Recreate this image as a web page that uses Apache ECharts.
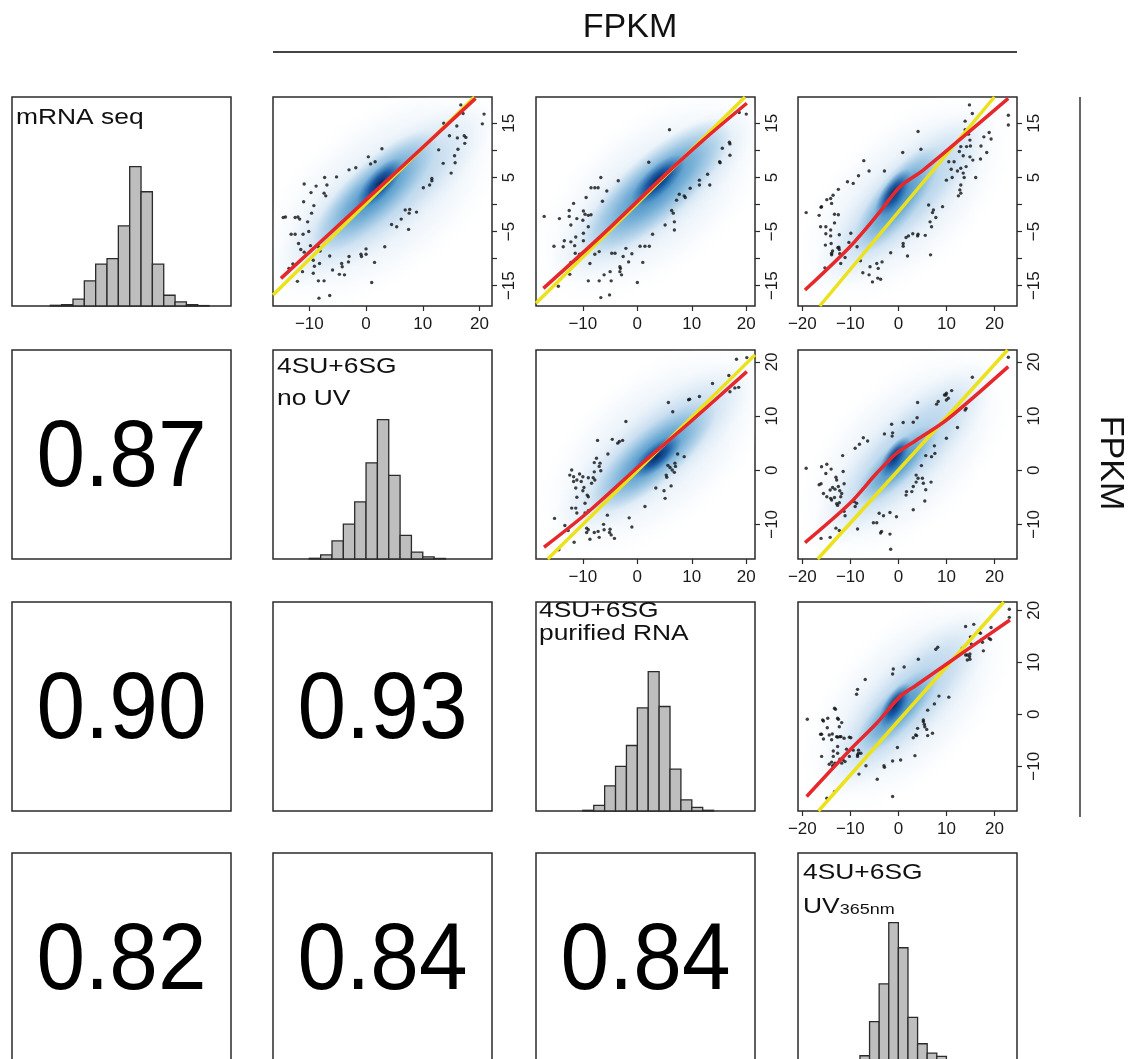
<!DOCTYPE html>
<html>
<head>
<meta charset="utf-8">
<script src="https://cdn.jsdelivr.net/npm/echarts@6.0.0/dist/echarts.min.js"></script>
<style>
  html, body { margin: 0; padding: 0; background: #ffffff; }
  #chart { width: 1133px; height: 1059px; }
</style>
</head>
<body>
<div id="chart"></div>
<script>
// ---------------- data ----------------
// Samples, in matrix order (row/column 0..3)
const sampleTitles = [
  ['mRNA seq'],
  ['4SU+6SG', 'no UV'],
  ['4SU+6SG', 'purified RNA'],
  ['4SU+6SG', '{b|UV}{sub|365nm}']
];

// log2 FPKM axis extent of every sample
const axisMin = [-18.75, -16.4, -18.6, -20.9];
const axisMax = [19.86, 22.2, 21.6, 24.7];

// axis ticks / labels
const xTickValues = [[], [-10, 0, 10, 20], [-10, 0, 10, 20], [-20, -10, 0, 10, 20]];
const yTickValues = [[-15, -10, -5, 0, 5, 10, 15], [-10, 0, 10, 20], [-10, 0, 10, 20], []];
const yLabelValues = [[-15, -5, 5, 15], [-10, 0, 10, 20], [-10, 0, 10, 20], []];

// histograms (bin left edges, counts scaled to the tallest bin)
const binWidth = 2;
const binsMrna = [-12, -10, -8, -6, -4, -2, 0, 2, 4, 6, 8, 10, 12, 14];
const countsMrna = [0.005, 0.01, 0.05, 0.18, 0.30, 0.34, 0.575, 1.0, 0.82, 0.30, 0.077, 0.029, 0.01, 0.003];
const binsNoUV = [-10, -8, -6, -4, -2, 0, 2, 4, 6, 8, 10, 12];
const countsNoUV = [0.005, 0.03, 0.13, 0.25, 0.41, 0.69, 1.0, 0.60, 0.17, 0.05, 0.015, 0.004];
const binsPurified = [-10, -8, -6, -4, -2, 0, 2, 4, 6, 8, 10, 12];
const countsPurified = [0.005, 0.04, 0.18, 0.32, 0.47, 0.74, 1.0, 0.75, 0.30, 0.08, 0.026, 0.005];
const binsUV = [-10, -8, -6, -4, -2, 0, 2, 4, 6, 8, 10];
const countsUV = [0.01, 0.045, 0.29, 0.56, 1.0, 0.82, 0.32, 0.131, 0.064, 0.04, 0.015];

// Pearson correlations for the lower triangle
const corrRows = [1, 2, 2, 3, 3, 3];
const corrCols = [0, 0, 1, 0, 1, 2];
const corrValues = [0.87, 0.90, 0.93, 0.82, 0.84, 0.84];

// density ridge of each scatter: [x1, y1, x2, y2, level] (level 0 = outer, 2 = core)
const density_01 = [[-12.5, -11.5, 18.6, 15.0, 0], [-7.23, -6.56, 10.4, 11.3, 1], [-0.77, 0.22, 5.69, 7.6, 2]];
const density_02 = [[-12.36, -10.87, 18.24, 14.38, 0], [-7.46, -6.56, 14.57, 13.15, 1], [-0.12, 0.83, 7.84, 8.22, 2]];
const density_03 = [[-13.55, -12.1, 16.29, 14.38, 0], [-7.3, -7.18, 6.58, 8.83, 1], [-3.83, -1.63, 1.72, 5.76, 2]];
const density_12 = [[-11.74, -9.18, 18.24, 16.67, 0], [-6.24, -5.49, 12.12, 10.51, 1], [-0.12, -0.57, 7.23, 5.59, 2]];
const density_13 = [[-13.55, -10.41, 16.29, 16.67, 0], [-7.3, -4.87, 6.58, 6.82, 1], [-3.14, -0.57, 1.72, 5.59, 2]];
const density_23 = [[-12.85, -11.99, 16.29, 16.86, 0], [-7.3, -6.22, 6.58, 7.24, 1], [-3.14, -1.73, 1.72, 5.32, 2]];

// lowess fits (red)
const fit_01 = [[-15.0, -13.65], [2.0, 2.8], [19.3, 19.6]];
const fit_02 = [[-17.25, -15.5], [-6, -5.2], [4.8, 5.2], [12, 11.8], [20.1, 18.7]];
const fit_03 = [[-19.45, -15.8], [-10.08, -7.79], [-3.83, -1.33], [0.33, 3.29], [5.19, 6.37], [13.52, 12.53], [22.88, 19.61]];
const fit_12 = [[-17.13, -14.23], [-9.3, -7.95], [0.8, 1.2], [9.7, 8.9], [20.1, 18.2]];
const fit_13 = [[-19.45, -13.37], [-10.08, -6.1], [-4.53, -0.57], [-0.36, 3.13], [3.8, 5.59], [10.05, 9.28], [22.88, 19.13]];
const fit_23 = [[-19.1, -15.8], [-10.08, -6.86], [-4.53, -1.73], [0.33, 3.4], [3.8, 5.64], [10.05, 9.68], [23.23, 18.14]];

// reference lines (yellow)
const ref_01 = [[-16.4, -16.7], [19.1, 19.86]];
const ref_02 = [[-18.6, -18.25], [19.77, 19.86]];
const ref_03 = [[-16.37, -18.75], [20.0, 19.86]];
const ref_12 = [[-16.45, -16.4], [21.6, 21.3]];
const ref_13 = [[-16.8, -16.4], [22.75, 22.2]];
const ref_23 = [[-16.64, -18.6], [21.96, 21.6]];

// isolated genes outside the dense cloud
const outliers_01 = [[16.7,18.4],[17.1,16.8],[20.8,16.7],[20.5,14.9],[13.7,15.0],[16.0,14.5],[14.7,12.7],[16.1,12.3],[17.3,12.7],[17.6,12.4],[17.4,11.3],[12.8,10.1],[16.2,10.2],[15.6,9.0],[13.6,7.6],[15.7,7.7],[15.0,5.8],[11.6,4.8],[11.6,4.4],[10.1,3.1],[11.2,3.6],[6.9,-1.0],[7.7,-0.9],[7.6,-1.6],[8.9,-1.4],[6.2,-2.7],[4.5,-3.7],[5.4,-4.1],[7.5,-4.6],[3.3,-7.8],
  [2.8,10.3],[0.4,8.8],[0.8,7.5],[1.6,7.9],[-1.8,6.8],[-3.0,6.4],[-5.2,5.1],[-7.3,5.0],[-6.9,3.6],[-8.8,3.4],[-10.9,3.8],[-9.7,2.2],[-7.4,2.1],[-7.1,1.6],[-11.0,0.5],[-9.2,-0.2],[-9.6,-1.6],[-14.6,-2.4],[-14.2,-2.3],[-12.5,-2.4],[-12.0,-2.3],[-11.7,-2.7],[-10.3,-3.2],[-13.2,-5.5],[-12.5,-5.5],[-11.1,-5.5],[-10.1,-5.0],[-11.9,-7.2],[-11.5,-8.3],[-9.8,-7.6],[-8.4,-7.8],[-10.9,-8.8],[-8.1,-8.6],
  [-13.6,-11.8],[-12.9,-11.0],[-12.1,-14.2],[-11.2,-12.4],[-9.3,-10.3],[-9.1,-11.4],[-9.3,-12.7],[-8.4,-14.1],[-7.4,-14.1],[-8.2,-10.9],[-6.4,-9.5],[-5.9,-12.1],[-4.7,-12.9],[-4.3,-10.9],[-4.2,-11.5],[-3.8,-13.0],[-3.0,-9.6],[-3.1,-10.6],[-0.9,-9.2],[-0.8,-9.6],[0.0,-8.2],[0.0,-9.2],[1.5,-10.7],[1.0,-14.4],[-6.4,-16.8],[-8.3,-17.3]];

const outliers_02 = [[18.7,17.0],[20.0,16.7],[5.9,13.8],[16.9,11.5],[17.0,11.2],[15.6,10.4],[17.0,9.1],[15.1,7.9],[15.2,7.7],[12.9,5.6],[13.3,3.6],[11.4,4.5],[11.4,3.6],[9.7,3.0],[7.7,1.9],[8.6,1.6],[8.8,1.3],[7.2,0.8],[6.3,-1.1],[6.6,-1.6],[6.8,-3.2],[5.1,-3.8],[6.8,-4.7],[2.8,-5.5],[2.1,7.8],
  [-6.7,5.0],[-3.5,4.4],[-8.5,3.1],[-7.8,3.1],[-7.2,3.1],[-5.6,2.5],[-6.4,0.6],[-9.4,1.3],[-11.7,0.2],[-12.5,-1.1],[-12.5,-2.2],[-9.9,-1.2],[-9.6,-1.8],[-9.0,-2.0],[-8.5,-1.9],[-10.0,-2.9],[-11.1,-2.6],[-12.2,-3.8],[-9.0,-4.1],[-17.1,-2.2],[-14.3,-2.6],[-9.9,-5.3],[-11.3,-6.0],[-13.4,-6.7],[-12.2,-6.9],[-11.5,-7.6],[-9.9,-6.7],[-15.3,-7.7],[-13.6,-7.8],[-11.4,-9.0],[-10.6,-9.2],[-12.2,-10.7],[-11.0,-10.1],[-8.7,-10.9],
  [-7.0,-8.7],[-7.8,-9.2],[-4.7,-9.0],[-4.1,-9.0],[-2.1,-8.1],[-2.6,-9.6],[-1.0,-9.1],[-1.6,-10.6],[0.5,-7.7],[1.4,-7.7],[2.2,-7.7],[1.0,-10.7],[-3.2,-11.5],[-3.1,-11.8],[-3.2,-12.4],[-2.9,-13.0],[-5.0,-12.4],[-6.1,-13.0],[-12.4,-12.9],[-9.0,-14.1],[-7.0,-14.1],[-4.8,-14.1],[0.0,-14.4],[-6.7,-17.2],[-5.1,-16.7],[-14.5,-15.1]];

const outliers_03 = [[14.8,18.4],[15.4,16.8],[22.9,16.5],[22.9,14.7],[13.9,15.4],[4.1,13.5],[4.7,10.2],[0.9,9.6],[18.9,13.3],[19.3,12.1],[17.8,12.5],[13.9,13.8],[14.6,13.0],[14.9,11.9],[13.0,10.7],[14.2,10.7],[15.0,10.8],[17.2,10.8],[18.4,9.6],[12.7,9.8],[13.5,9.0],[14.9,8.8],[15.5,8.2],[17.1,8.4],[10.5,7.9],[11.6,7.9],[11.0,6.5],[12.3,6.2],[13.0,6.7],[14.1,7.0],[13.5,5.8],[13.7,5.0],[10.0,4.5],[11.2,5.0],[16.1,5.0],[13.0,3.6],[12.8,2.7],[13.0,2.1],[12.5,1.6],
  [9.2,-0.4],[6.3,-0.1],[7.3,-1.0],[7.1,-1.5],[7.8,-2.4],[6.6,-3.2],[6.9,-4.1],[5.6,-5.7],[6.7,-9.3],[3.0,-5.4],[4.0,-5.8],[4.1,-5.5],[2.1,-5.8],[1.6,-6.1],[1.0,-7.2],[1.0,-7.7],[1.9,-9.5],[-1.6,-8.9],[-3.4,-10.6],[-4.5,-10.9],[-5.9,-11.5],[-4.2,-11.8],[-6.1,-13.0],[-4.3,-13.6],[-3.7,-13.8],[-5.4,-14.3],[-7.4,-12.6],[-7.9,-10.4],
  [-15.3,-11.7],[-12.0,-10.9],[-11.1,-9.8],[-12.2,-9.1],[-12.3,-8.3],[-12.6,-8.0],[-13.7,-8.6],[-13.9,-9.0],[-13.9,-9.3],[-15.2,-7.5],[-12.4,-7.9],[-10.3,-7.0],[-9.9,-5.3],[-8.6,-7.8],[-12.3,-5.6],[-14.0,-7.2],[-14.1,-4.7],[-15.1,-5.4],[-14.1,-5.8],[-13.3,-3.4],[-15.1,-4.1],[-16.2,-4.1],[-12.5,-1.9],[-13.3,-1.8],[-16.5,-2.0],[-16.1,-0.5],[-16.0,-0.4],[-13.9,0.2],[-14.9,0.9],[-14.1,1.1],[-13.6,1.7],[-12.5,2.8],[-10.6,4.2],[-9.4,3.9],[-8.3,5.3],[-7.2,8.1],[-6.1,6.2],[-2.9,6.2],[-19.2,-1.5]];

const outliers_12 = [[18.2,20.5],[20.1,20.8],[16.8,17.5],[18.6,15.3],[17.9,15.2],[17.0,14.5],[13.8,16.0],[11.4,13.6],[9.4,13.0],[9.6,13.1],[5.7,12.5],[6.5,10.8],[-2.1,9.0],[-7.3,5.5],[-4.6,5.7],[-3.6,5.0],[-3.3,5.3],[-2.7,5.5],[-5.4,3.0],[7.4,3.0],[8.6,2.5],[5.6,0.9],[6.0,0.5],[6.9,1.3],[7.0,0.7],[6.4,0.05],[6.8,-0.4],[5.3,-0.9],[5.4,-1.3],[6.2,-2.9],[3.4,-3.3],[4.9,-3.8],[5.1,-5.2],[1.4,-6.7],[-1.5,-8.8],[-1.0,-10.5],
  [-12.05,0.05],[-12.4,-0.9],[-11.7,-1.2],[-10.6,-0.7],[-11.1,-1.8],[-10.0,-1.2],[-9.0,-1.4],[-8.1,-1.4],[-7.8,-1.8],[-8.4,-2.4],[-7.0,0.7],[-7.5,2.2],[-7.9,1.4],[-6.85,1.3],[-6.7,-0.1],[-7.9,-0.3],[-11.7,-2.1],[-10.3,-2.1],[-9.8,-3.2],[-10.0,-3.8],[-11.3,-3.3],[-9.2,-4.6],[-9.0,-4.9],[-11.1,-5.0],[-11.3,-7.0],[-11.1,-7.9],[-12.05,-7.0],[-9.6,-6.1],[-9.0,-7.5],[-9.6,-7.9],[-5.5,-8.3],
  [-15.2,-8.9],[-13.3,-10.2],[-12.7,-11.15],[-11.6,-13.3],[-14.4,-14.7],[-9.3,-10.7],[-9.0,-11.0],[-9.3,-11.5],[-8.7,-12.75],[-7.9,-11.5],[-7.2,-11.3],[-6.2,-10.0],[-6.1,-11.0],[-7.0,-12.4],[-5.0,-10.9],[-4.8,-11.95],[-4.2,-12.6],[-5.1,-11.5]];

const outliers_13 = [[22.9,20.85],[15.4,17.16],[11.1,14.7],[10.0,14.2],[9.9,13.9],[10.4,13.3],[9.6,13.9],[10.0,12.97],[8.3,12.7],[7.96,12.2],[4.0,12.5],[3.9,9.7],[3.1,8.85],[1.0,8.8],[-1.4,8.5],[-1.2,6.9],[-1.3,6.3],[-2.9,6.7],[14.1,11.4],[13.9,11.1],[12.3,7.9],[10.0,5.9],[7.5,4.5],[5.7,2.7],[7.6,3.1],[6.9,2.5],[4.8,0.85],[3.7,-0.9],[4.1,-1.5],[3.7,-2.2],[3.1,-3.0],[5.0,-1.5],[5.2,-2.4],[2.8,-3.95],[1.7,-3.95],[1.6,-4.6],[5.7,-3.6],[6.8,-2.2],[5.5,-5.7],[3.1,-7.3],
  [-0.4,-8.6],[-1.75,-7.8],[-3.1,-8.4],[-4.5,-9.7],[-5.2,-9.7],[-3.5,-11.3],[-3.7,-11.6],[-1.75,-11.8],[-1.6,-14.6],[-4.0,-7.95],[-8.5,-10.85],[-14.2,-12.4],[-16.1,-12.6],[-13.0,-10.7],[-12.3,-11.15],
  [-8.7,-6.1],[-9.0,-6.7],[-9.2,-5.8],[-11.1,-8.4],[-11.3,-7.6],[-12.85,-6.2],[-12.65,-6.5],[-12.3,-6.0],[-13.9,-5.5],[-12.0,-4.9],[-11.8,-4.3],[-14.9,-4.9],[-14.1,-5.2],[-13.3,-5.05],[-12.5,-3.0],[-11.3,-2.5],[-12.2,-3.8],[-13.2,-3.5],[-13.7,-3.2],[-14.2,-3.65],[-15.6,-4.3],[-16.1,-2.5],[-16.5,-2.7],[-12.85,-1.8],[-13.0,-1.3],[-11.5,-0.25],[-14.0,0.2],[-14.9,1.1],[-16.0,0.65],[-15.1,-0.6],[-11.6,2.7],[-9.0,4.05],[-8.1,4.8],[-7.3,6.0],[-6.4,5.4],[-19.2,0.35]];

const outliers_23 = [[23.1,20.2],[23.1,18.65],[15.7,17.3],[14.0,16.9],[16.8,15.8],[17.1,15.6],[15.0,14.9],[17.5,13.85],[17.3,14.3],[18.9,14.6],[19.2,14.4],[19.3,16.7],[15.2,13.5],[13.3,12.7],[14.9,11.6],[14.9,10.6],[12.96,12.05],[14.0,11.4],[14.35,11.4],[17.7,12.2],[14.35,10.45],[14.8,11.1],[8.2,12.9],[7.8,12.5],[4.15,10.6],[1.2,9.1],[-1.06,8.7],[-1.2,7.75],[-6.9,6.7],[-8.5,4.8],[-8.7,3.85],[-13.3,1.15],[-13.1,0.96],
  [8.45,3.5],[10.5,3.3],[7.5,2.0],[6.1,0.8],[5.2,-1.1],[5.2,-1.4],[5.4,-1.9],[5.5,-2.4],[4.0,-2.7],[3.8,-4.1],[3.6,-3.97],[7.1,-3.65],[6.1,-4.1],[5.9,-2.9],[3.1,-4.5],[-0.2,-6.4],[0.47,-8.8],[3.45,-7.95],[-1.2,-8.97],[-3.0,-9.9],[-2.9,-10.2],[-6.75,-9.9],[-4.4,-12.5],[-1.2,-15.8],[-8.2,-11.5],
  [-8.5,-7.8],[-8.3,-6.9],[-8.3,-7.5],[-7.8,-7.5],[-8.5,-8.1],[-10.2,-8.1],[-9.4,-6.9],[-10.8,-6.7],[-13.3,-14.9],[-14.9,-16.15],[-15.98,-8.1],[-12.65,-7.5],[-13.55,-8.1],[-13.9,-9.2],[-13.4,-9.9],[-13.2,-9.4],[-13.7,-9.9],[-14.4,-9.6],[-11.1,-9.1],[-12.2,-8.65],[-11.5,-8.8],[-11.8,-9.4],[-12.65,-6.2],[-13.55,-7.05],[-13.9,-4.9],[-12.85,-4.3],[-11.95,-4.3],[-11.3,-4.6],[-12.3,-2.4],[-12.2,-4.3],[-9.9,-4.5],[-10.2,-4.4],[-12.5,-0.96],[-12.65,-0.77],[-11.8,-1.6],[-14.7,-0.77],[-15.6,-1.3],[-14.8,-2.6],[-16.2,-3.85],[-15.98,-3.85],[-15.6,-4.75],[-14.4,-3.97],[-13.76,-3.8],[-15.77,-1.1],[-18.96,-0.96],[-12.65,-4.4]];

// ---------------- lookup tables for the layout ----------------
const histBins = [binsMrna, binsNoUV, binsPurified, binsUV];
const histCounts = [countsMrna, countsNoUV, countsPurified, countsUV];
const scatterPanels = {
  '0-1': { density: density_01, fit: fit_01, ref: ref_01, pts: outliers_01 },
  '0-2': { density: density_02, fit: fit_02, ref: ref_02, pts: outliers_02 },
  '0-3': { density: density_03, fit: fit_03, ref: ref_03, pts: outliers_03 },
  '1-2': { density: density_12, fit: fit_12, ref: ref_12, pts: outliers_12 },
  '1-3': { density: density_13, fit: fit_13, ref: ref_13, pts: outliers_13 },
  '2-3': { density: density_23, fit: fit_23, ref: ref_23, pts: outliers_23 }
};

// ---------------- layout & style ----------------
const FONT = "'Liberation Sans', Arial, Helvetica, sans-serif";
const COL_X = [12, 273, 536, 798];
const ROW_Y = [97, 350, 602, 853];
const BOX_W = 219, BOX_H = 209;
const INK = '#2b2b2b';
const TITLE_POS = [
  { x: 16, y: [118] },
  { x: 277, y: [366.7, 399.2] },
  { x: 539, y: [610.8, 634.2] },
  { x: 803, y: [872.5, 906.7] }
];

// shading of the smoothed density: each level is drawn as a stack of soft ellipses
const BLOB_STYLE = [
  [
    { ratio: 0.55, stretch: 1.32, stops: [[0, 'rgba(198,219,239,0.75)'], [0.6, 'rgba(222,235,247,0.45)'], [1, 'rgba(239,246,252,0)']] },
    { ratio: 0.32, stretch: 1.22, stops: [[0, 'rgba(140,190,222,0.85)'], [0.55, 'rgba(180,210,234,0.55)'], [1, 'rgba(222,235,247,0)']] }
  ],
  [
    { ratio: 0.34, stretch: 1.2, stops: [[0, 'rgba(33,113,181,0.9)'], [0.5, 'rgba(66,146,198,0.55)'], [1, 'rgba(107,174,214,0)']] }
  ],
  [
    { ratio: 0.40, stretch: 1.18, stops: [[0, 'rgba(8,40,100,1)'], [0.45, 'rgba(8,69,148,0.75)'], [1, 'rgba(33,113,181,0)']] }
  ]
];

const fmtTick = v => (v < 0 ? '\u2212' + Math.abs(v) : String(v));

function renderDensity(params, api) {
  const a = api.coord([api.value(0), api.value(1)]);
  const b = api.coord([api.value(2), api.value(3)]);
  const dx = b[0] - a[0], dy = b[1] - a[1];
  const len = Math.hypot(dx, dy) / 2;
  const children = BLOB_STYLE[api.value(4)].map(st => {
    const half = len * st.stretch;
    const r = half * st.ratio;
    return {
      type: 'circle',
      x: (a[0] + b[0]) / 2, y: (a[1] + b[1]) / 2,
      rotation: -Math.atan2(dy, dx),
      scaleX: half / r, scaleY: 1,
      shape: { cx: 0, cy: 0, r: r },
      style: { fill: new echarts.graphic.RadialGradient(0.5, 0.5, 0.5, st.stops.map(s => ({ offset: s[0], color: s[1] }))) }
    };
  });
  return { type: 'group', children: children };
}

function renderBin(params, api) {
  const p0 = api.coord([api.value(0), api.value(2)]);
  const p1 = api.coord([api.value(1), 0]);
  return {
    type: 'rect',
    shape: { x: p0[0], y: p0[1], width: p1[0] - p0[0], height: p1[1] - p0[1] },
    style: { fill: '#bebebe', stroke: INK, lineWidth: 1.3 }
  };
}

function renderCorr(params, api) {
  const p = api.coord([api.value(0), api.value(1)]);
  return {
    type: 'text', x: p[0], y: p[1] + 5, scaleX: 0.92,
    style: { text: api.value(2).toFixed(2), fontSize: 95, fontFamily: FONT, fill: '#000', align: 'center', verticalAlign: 'middle' }
  };
}

const grids = [], xAxes = [], yAxes = [], series = [];
for (let r = 0; r < 4; r++) {
  for (let c = 0; c < 4; c++) {
    const k = r * 4 + c;
    const upper = c > r, diag = r === c;
    grids.push({
      left: COL_X[c], top: ROW_Y[r], width: BOX_W, height: BOX_H,
      show: true, borderColor: INK, borderWidth: 1.5, backgroundColor: 'rgba(0,0,0,0)',
      containLabel: false, outerBoundsMode: 'none'
    });
    xAxes.push({
      gridIndex: k, type: 'value', position: 'bottom',
      min: (upper || diag) ? axisMin[c] : 0, max: (upper || diag) ? axisMax[c] : 1,
      show: upper,
      axisLine: { show: false, onZero: false }, splitLine: { show: false },
      axisTick: { show: true, length: 5, lineStyle: { color: INK, width: 1.2 }, customValues: xTickValues[c] },
      axisLabel: { show: true, customValues: xTickValues[c], formatter: fmtTick, fontSize: 17, fontFamily: FONT, color: '#1a1a1a', margin: 10 }
    });
    yAxes.push({
      gridIndex: k, type: 'value', position: 'right',
      min: upper ? axisMin[r] : 0, max: upper ? axisMax[r] : (diag ? 1.5 : 1),
      show: upper,
      axisLine: { show: false, onZero: false }, splitLine: { show: false },
      axisTick: { show: true, length: 5, lineStyle: { color: INK, width: 1.2 }, customValues: yTickValues[r] },
      axisLabel: { show: true, customValues: yLabelValues[r], formatter: fmtTick, rotate: 90, fontSize: 17, fontFamily: FONT, color: '#1a1a1a', margin: 9 }
    });

    if (upper) {
      const p = scatterPanels[r + '-' + c];
      series.push({ type: 'custom', xAxisIndex: k, yAxisIndex: k, renderItem: renderDensity, data: p.density, clip: true, silent: true, z: 1 });
      series.push({ type: 'scatter', xAxisIndex: k, yAxisIndex: k, data: p.pts, symbol: 'circle', symbolSize: 3.4, itemStyle: { color: '#101010' }, silent: true, z: 2 });
      series.push({ type: 'line', xAxisIndex: k, yAxisIndex: k, data: p.ref, showSymbol: false, lineStyle: { color: '#ece21c', width: 3.5 }, silent: true, z: 3 });
      series.push({ type: 'line', xAxisIndex: k, yAxisIndex: k, data: p.fit, smooth: 0.3, showSymbol: false, lineStyle: { color: '#e6282c', width: 3.5 }, silent: true, z: 4 });
    } else if (diag) {
      const bins = histBins[r], counts = histCounts[r];
      series.push({
        type: 'custom', xAxisIndex: k, yAxisIndex: k, renderItem: renderBin, silent: true, z: 2,
        data: bins.map((b, i) => [b, b + binWidth, counts[i]])
      });
    }
  }
}
// correlation coefficients in the lower triangle
corrValues.forEach((v, i) => {
  const k = corrRows[i] * 4 + corrCols[i];
  series.push({ type: 'custom', xAxisIndex: k, yAxisIndex: k, renderItem: renderCorr, silent: true, data: [[0.5, 0.5, v]] });
});

// sample names on the diagonal, plus the FPKM margin annotations
const graphic = [
  { type: 'line', shape: { x1: 273, y1: 52, x2: 1017, y2: 52 }, style: { stroke: '#444', lineWidth: 2 } },
  { type: 'text', x: 630, y: 28, style: { text: 'FPKM', fontSize: 34, fontFamily: FONT, fill: '#111', align: 'center', verticalAlign: 'middle' } },
  { type: 'line', shape: { x1: 1080, y1: 97, x2: 1080, y2: 817 }, style: { stroke: '#333', lineWidth: 1.5 } },
  { type: 'text', x: 1110, y: 463, rotation: -Math.PI / 2, style: { text: 'FPKM', fontSize: 34, fontFamily: FONT, fill: '#111', align: 'center', verticalAlign: 'middle' } }
];
sampleTitles.forEach((lines, i) => {
  lines.forEach((line, j) => {
    graphic.push({
      type: 'text', x: TITLE_POS[i].x, y: TITLE_POS[i].y[j], scaleX: 1.2,
      style: {
        text: line, fontSize: 22, fontFamily: FONT, fill: '#111', align: 'left', verticalAlign: 'middle',
        rich: {
          b: { fontSize: 22, fontFamily: FONT, fill: '#111', verticalAlign: 'bottom' },
          sub: { fontSize: 15, fontFamily: FONT, fill: '#111', verticalAlign: 'bottom' }
        }
      }
    });
  });
});

const chart = echarts.init(document.getElementById('chart'), null, { renderer: 'canvas', width: 1133, height: 1059 });
chart.setOption({
  backgroundColor: '#ffffff',
  animation: false,
  grid: grids,
  xAxis: xAxes,
  yAxis: yAxes,
  series: series,
  graphic: graphic
});
</script>
</body>
</html>
